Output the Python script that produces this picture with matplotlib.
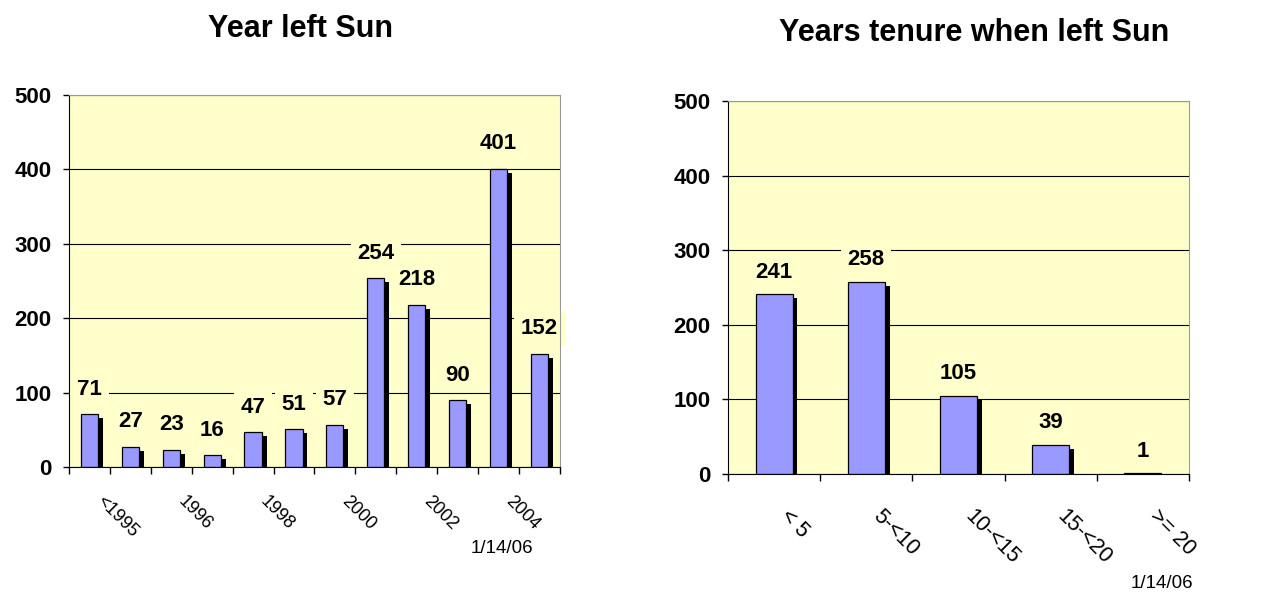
import matplotlib
matplotlib.use('Agg')
import matplotlib.pyplot as plt
import matplotlib.patheffects as pe
import matplotlib.transforms as mtransforms
import numpy as np

plt.rcParams['font.family'] = ['Liberation Sans', 'DejaVu Sans']

years = ['<1995', '1995', '1996', '1997', '1998', '1999', '2000',
         '2001', '2002', '2003', '2004', '2005']
left_sun = [71, 27, 23, 16, 47, 51, 57, 254, 218, 90, 401, 152]

tenure = ['< 5', '5-<10', '10-<15', '15-<20', '>= 20']
tenure_counts = [241, 258, 105, 39, 1]

BG = '#FFFFCC'
BAR = '#9999FF'


def draw(ax, cats, vals, width, shown, label_size, label_pad, val_off):
    x = np.arange(len(cats))
    ax.set_facecolor(BG)
    ax.set_axisbelow(True)
    ax.yaxis.grid(True, color='black', linewidth=0.8)
    bars = ax.bar(x, vals, width, color=BAR, edgecolor='black', linewidth=0.9)
    for b in bars:
        b.set_path_effects([pe.SimplePatchShadow(offset=(3.5, -3), shadow_rgbFace='black', alpha=1.0),
                            pe.Normal()])
    for xi, v in zip(x, vals):
        ax.annotate(str(v), (xi, v), xytext=(0, val_off), textcoords='offset points',
                    ha='center', va='center', fontsize=16, fontweight='bold',
                    bbox=dict(boxstyle='square,pad=0.3', fc=BG, ec='none'),
                    annotation_clip=False, clip_on=False, zorder=2.4)
    ax.set_xlim(-0.5, len(cats) - 0.5)
    ax.set_ylim(0, 500)
    ax.set_yticks(range(0, 501, 100))
    ax.tick_params(axis='y', direction='out', length=4.5, width=1, pad=8,
                   labelsize=16)
    for t in ax.get_yticklabels():
        t.set_fontweight('bold')
    # category boundaries as major ticks, labels at the centres
    ax.set_xticks(np.arange(len(cats) + 1) - 0.5)
    ax.set_xticklabels([])
    ax.tick_params(axis='x', which='major', direction='out', length=5, width=1)
    ax.set_xticks(x, [c if shown(i) else '' for i, c in enumerate(cats)], minor=True)
    ax.tick_params(axis='x', which='minor', length=0, pad=label_pad,
                   labelsize=label_size)
    shift = mtransforms.ScaledTranslation(7 / 72, 0, ax.figure.dpi_scale_trans)
    for t in ax.get_xticklabels(minor=True):
        t.set_rotation(-45)
        t.set_ha('left')
        t.set_va('center')
        t.set_rotation_mode('anchor')
        t.set_transform(t.get_transform() + shift)
    ax.spines['left'].set_color('black')
    ax.spines['bottom'].set_color('black')
    ax.spines['top'].set_color('#999999')
    ax.spines['right'].set_color('#999999')


fig = plt.figure(figsize=(12.72, 5.92), dpi=100)
ax1 = fig.add_axes([0.0542, 0.2111, 0.386, 0.6284])
ax2 = fig.add_axes([0.5723, 0.1993, 0.3624, 0.630])

draw(ax1, years, left_sun, 0.42, lambda i: i % 2 == 0, 13, 23, 18)
draw(ax2, tenure, tenure_counts, 0.4, lambda i: True, 15.5, 28, 16)

fig.text(300 / 1272, 0.9375, 'Year left Sun', ha='center', va='baseline',
         fontsize=22, fontweight='bold')
fig.text(974 / 1272, 0.9307, 'Years tenure when left Sun', ha='center',
         va='baseline', fontsize=22, fontweight='bold')
fig.text(533 / 1272, 0.0659, '1/14/06', ha='right', va='baseline', fontsize=13.5)
fig.text(1193 / 1272, 0.0068, '1/14/06', ha='right', va='baseline', fontsize=13.5)

fig.savefig('out.png', dpi=100, facecolor='white')
